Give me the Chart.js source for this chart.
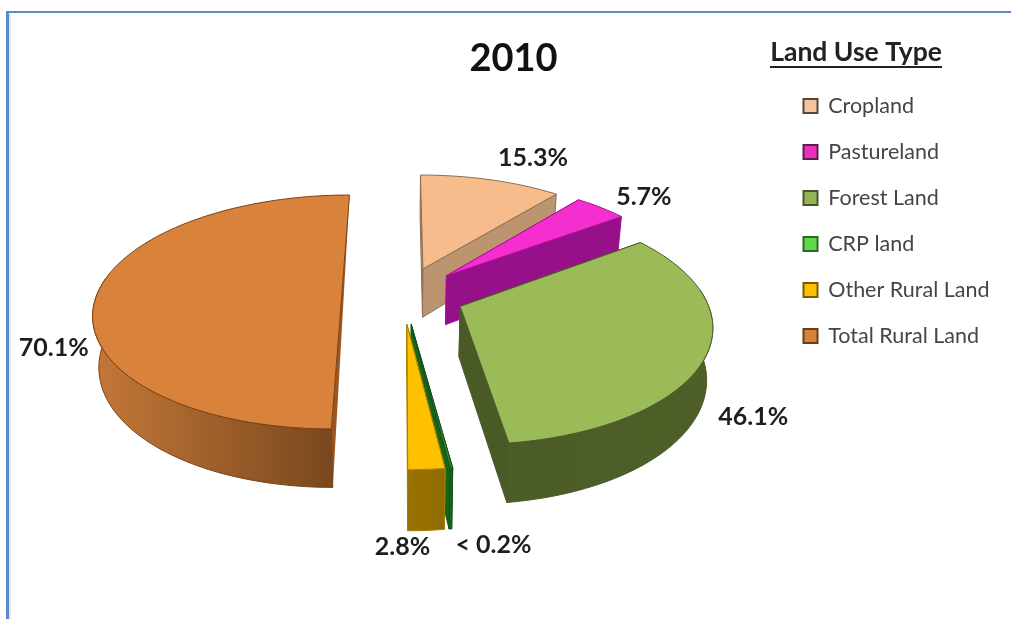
<!DOCTYPE html>
<html>
<head>
<meta charset="utf-8">
<title>2010 Land Use Type</title>
<script src="https://cdn.jsdelivr.net/npm/chart.js@4/dist/chart.umd.min.js"></script>
<style>
  html, body { margin: 0; padding: 0; background: #fff; }
  canvas { display: block; filter: blur(0.4px); }
</style>
</head>
<body>
<canvas id="landChart" width="1011" height="619"></canvas>
<script>
// values (they sum to 140.1, total rural land takes half the pie)
var categories = ["Cropland", "Pastureland", "Forest Land", "CRP land", "Other Rural Land", "Total Rural Land"];
var shares = [15.3, 5.7, 46.1, 0.2, 2.8, 70.1];
var shareLabels = ["15.3%", "5.7%", "46.1%", "< 0.2%", "2.8%", "70.1%"];

var topColors = ["#F6BC8C", "#F52FCF", "#9BBB59", "#2F8A2A", "#FFC000", "#D9823B"];
var legendColors = ["#F4C3A0", "#E832BE", "#93B356", "#62D84A", "#FFC000", "#D9823B"];
var legendBorders = ["#5A4636", "#5A1E50", "#46582A", "#2B6A22", "#7A5C00", "#6A3E18"];
var edgeColors = ["#8A6E55", "#A5129A", "#4A5A28", "#14501A", "#A88000", "#7A4214"];
var faceColors = ["#BC9470", "#96108A", "#4A5A26", "#17651C", "#957000", "#9A5520"];
var wallFrom = ["#C0936C", "#98107F", "#4C5C27", "#1B6A20", "#9A7400", "#C47838"];
var wallTo = ["#B08560", "#8A1480", "#4E5F28", "#155A1C", "#8E6A00", "#7A481E"];

// painter's order, back of the pie first. CRP goes before Other: its wall hangs below Other's top
var drawOrder = [0, 1, 2, 5, 3, 4];
// label offset from the slice's rim midpoint
var labelNudge = [[42, -22], [43, -11], [47, 61], [42, 77], [-24, 78], [-43, 53]];

// the flat circle on the table, seen in perspective
var view = { cx: 403, cy: 295, rx: 245, ry: 114.5, persp: 0.145, depth: 50, shrink: 0.98, explode: 0.25 };

function project(u, v) {
    var w = 1 / (1 - view.persp * v);
    return { x: view.cx + view.rx * u * w, y: view.cy + view.ry * v * w, w: w };
}
function lower(p) {
    return { x: view.cx + (p.x - view.cx) * view.shrink, y: p.y + view.depth * p.w };
}
function tracePath(ctx, pts) {
    ctx.beginPath();
    pts.forEach(function (p, i) {
        if (i == 0) ctx.moveTo(p.x, p.y); else ctx.lineTo(p.x, p.y);
    });
    ctx.closePath();
}

function drawSlice(ctx, arc, i) {
    var mid = (arc.startAngle + arc.endAngle) / 2;
    var ou = Math.cos(mid) * view.explode;
    var ov = Math.sin(mid) * view.explode;
    var apex = project(ou, ov);
    var rim = [], front = [];
    var steps = Math.max(2, Math.ceil((arc.endAngle - arc.startAngle) * 40));
    for (var s = 0; s <= steps; s++) {
        var a = arc.startAngle + (arc.endAngle - arc.startAngle) * s / steps;
        var p = project(ou + Math.cos(a), ov + Math.sin(a));
        rim.push(p);
        // only the part of the rim that faces the viewer gets a wall
        if (Math.sin(a) > -0.15) front.push(p);
    }
    var first = rim[0], last = rim[rim.length - 1];
    var apexLow = lower(apex);

    ctx.lineWidth = 1;
    ctx.lineJoin = "round";
    ctx.strokeStyle = edgeColors[i];

    // cut faces
    ctx.fillStyle = faceColors[i];
    if (arc.endAngle - arc.startAngle >= Math.PI - 0.01) {
        // half a pie: both cuts are one flat edge seen almost side on
        tracePath(ctx, [last, first, lower(first)]);
        ctx.fill();
    } else {
        tracePath(ctx, [apex, first, lower(first), apexLow]);
        ctx.fill(); ctx.stroke();
        tracePath(ctx, [apex, last, lower(last), apexLow]);
        ctx.fill(); ctx.stroke();
    }

    // outer wall, shaded left to right
    if (front.length > 1) {
        var xs = front.map(function (q) { return q.x; });
        var grad = ctx.createLinearGradient(Math.min.apply(null, xs), 0, Math.max.apply(null, xs), 0);
        grad.addColorStop(0, wallFrom[i]);
        grad.addColorStop(1, wallTo[i]);
        ctx.fillStyle = grad;
        tracePath(ctx, front.concat(front.map(lower).reverse()));
        ctx.fill(); ctx.stroke();
    }

    // top
    ctx.fillStyle = topColors[i];
    tracePath(ctx, [apex].concat(rim));
    ctx.fill(); ctx.stroke();
}

var pie3d = {
    id: "pie3d",
    beforeDraw: function (chart) {
        var ctx = chart.ctx;
        ctx.save();
        ctx.fillStyle = "#ffffff";
        ctx.fillRect(0, 0, chart.width, chart.height);
        ctx.fillStyle = "#E4E4E4";
        ctx.fillRect(9, 14, 2, chart.height - 14);
        ctx.fillStyle = "#5B8AC6";
        ctx.fillRect(6, 11, chart.width - 6, 2);
        ctx.fillRect(6, 11, 3, chart.height - 11);
        ctx.restore();
    },
    afterLayout: function (chart) {
        // legend sits higher than the layout would put it, its title ends at x=942
        var lg = chart.legend;
        var h = lg.height;
        lg.left = 779; lg.right = 942; lg.width = 163;
        lg.top = 39; lg.bottom = 39 + h;
        // box is narrower than its text now, so skip the clip legend.draw does
        lg.draw = function () { this._draw(); };
        chart.titleBlock.left += 8;
        chart.titleBlock.right += 8;
    },
    beforeDatasetDraw: function (chart, args) {
        var ctx = chart.ctx;
        var arcs = chart.getDatasetMeta(args.index).data;
        ctx.save();
        drawOrder.forEach(function (i) { drawSlice(ctx, arcs[i], i); });
        ctx.font = "bold 25px Lato";
        ctx.fillStyle = "#1E1E1E";
        ctx.textAlign = "center";
        ctx.textBaseline = "middle";
        arcs.forEach(function (arc, i) {
            var mid = (arc.startAngle + arc.endAngle) / 2;
            var p = project(Math.cos(mid) * (1 + view.explode), Math.sin(mid) * (1 + view.explode));
            ctx.fillText(shareLabels[i], p.x + labelNudge[i][0], p.y + labelNudge[i][1]);
        });
        ctx.restore();
        return false;
    },
    afterDraw: function (chart) {
        // legend title is underlined in the original
        var ctx = chart.ctx;
        ctx.save();
        ctx.fillStyle = "#222222";
        ctx.fillRect(770, 66, 172, 2);
        ctx.restore();
    }
};

new Chart("landChart", {
    type: "pie",
    data: {
        labels: categories,
        datasets: [{
            data: shares,
            backgroundColor: legendColors,
            borderColor: legendBorders,
            borderWidth: 2
        }]
    },
    options: {
        responsive: false,
        animation: false,
        rotation: 0,
        plugins: {
            tooltip: { enabled: false },
            title: {
                display: true,
                text: "2010",
                color: "#111111",
                font: { family: "Lato", size: 38, weight: "bold" },
                padding: { top: 36, bottom: 10 }
            },
            legend: {
                position: "right",
                align: "start",
                title: {
                    display: true,
                    text: "Land Use Type",
                    color: "#222222",
                    position: "end",
                    font: { family: "Lato", size: 26.5, weight: "bold" },
                    padding: { top: 0, bottom: 0 }
                },
                labels: {
                    boxWidth: 14,
                    boxHeight: 14,
                    padding: 24.5,
                    color: "#454545",
                    font: { family: "Lato", size: 21.5 }
                }
            }
        }
    },
    plugins: [pie3d]
});
</script>
</body>
</html>
